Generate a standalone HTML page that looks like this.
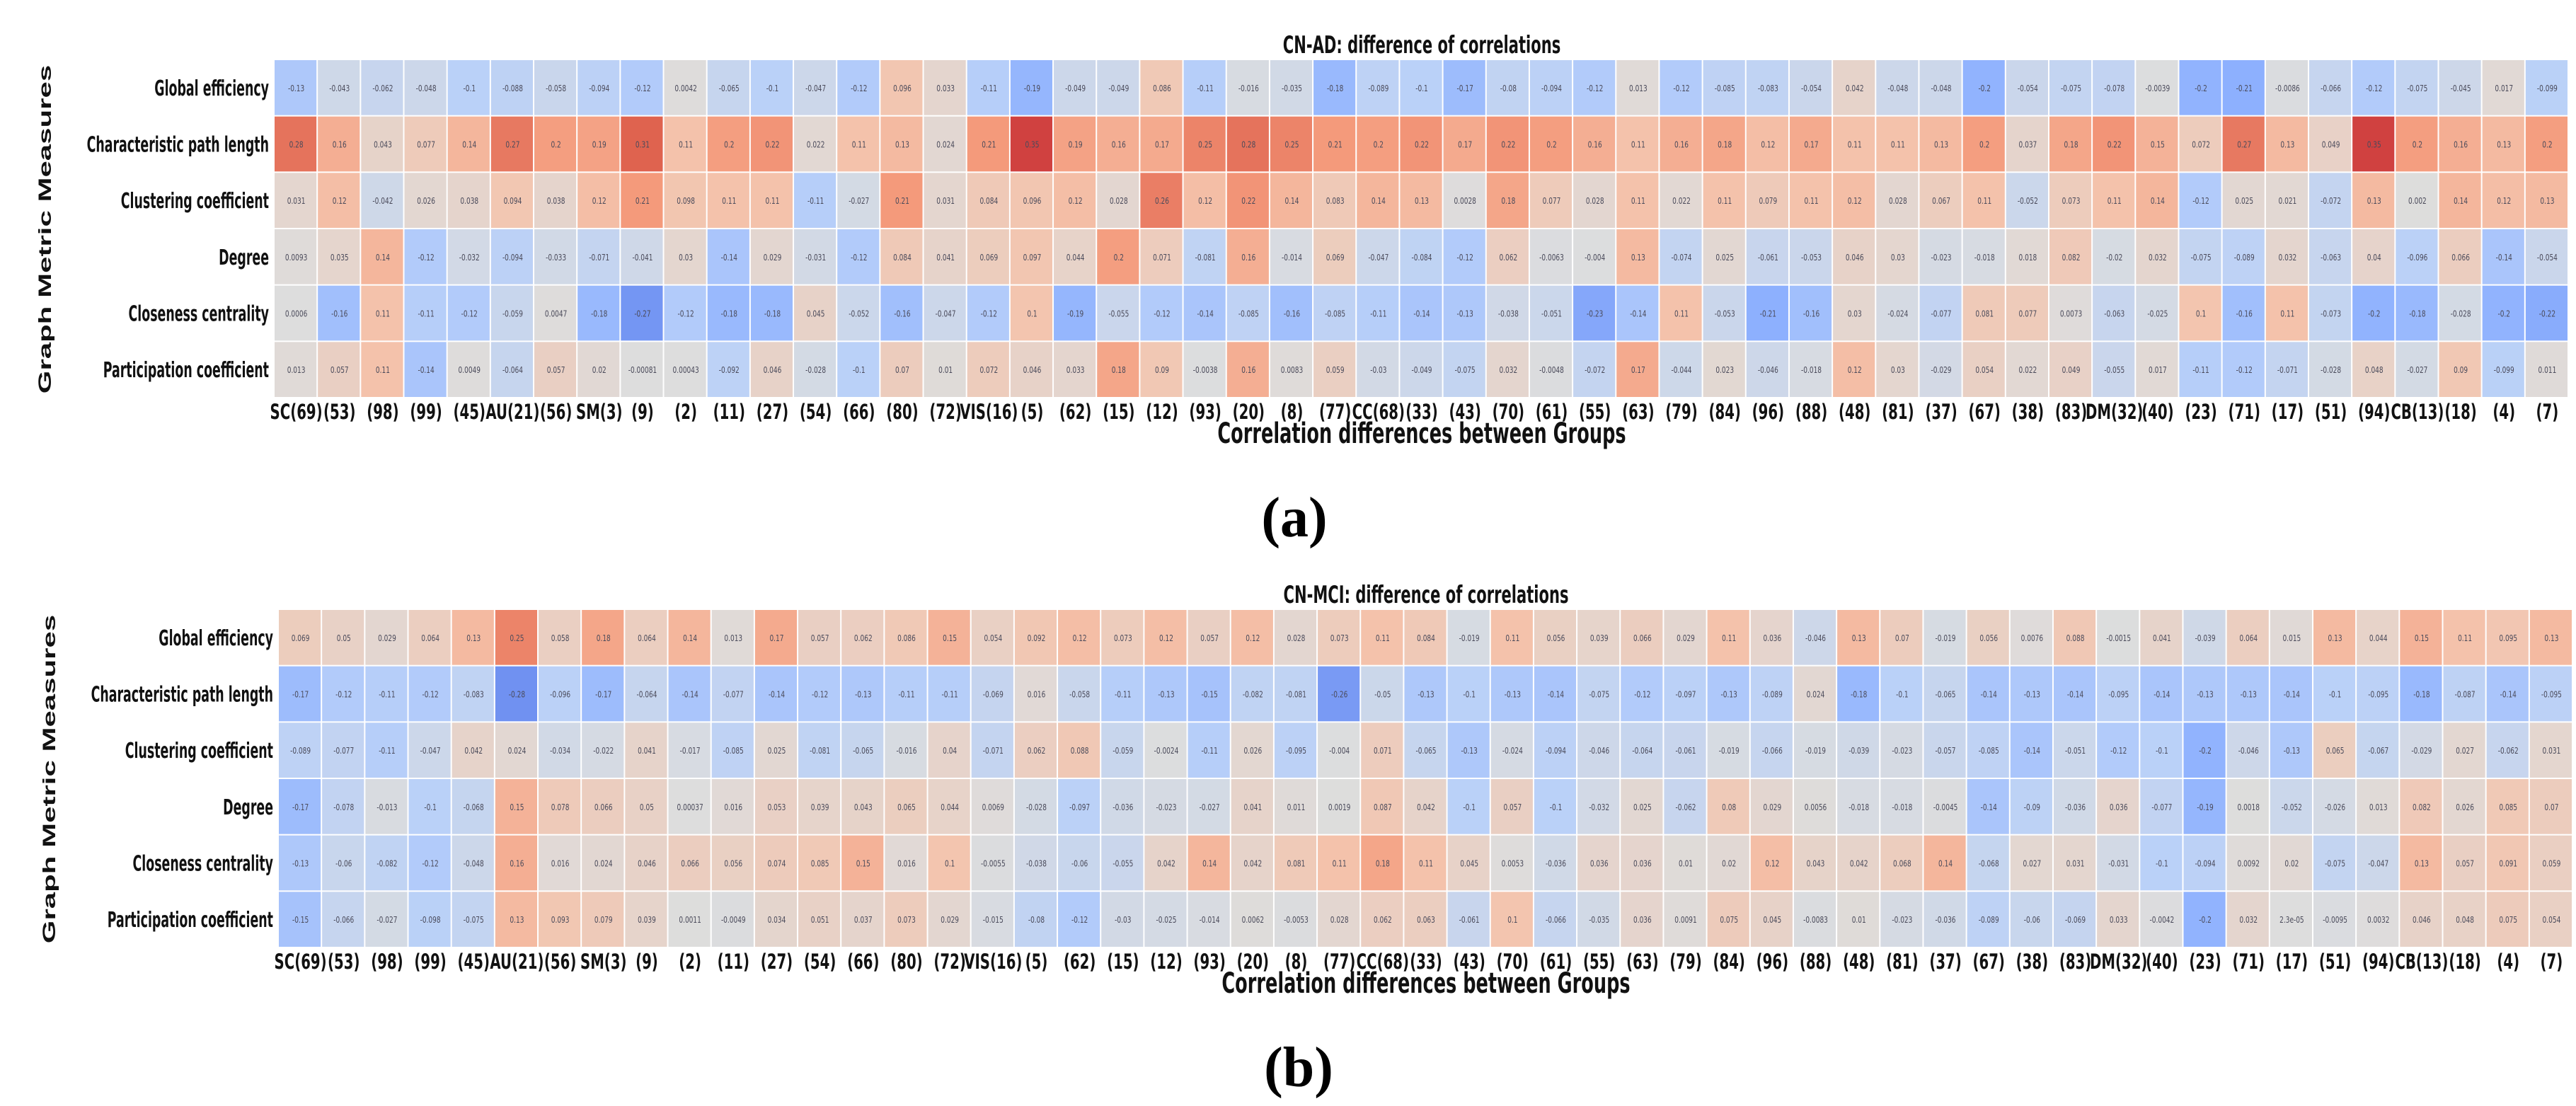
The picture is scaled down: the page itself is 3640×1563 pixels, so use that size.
<!DOCTYPE html>
<html><head><meta charset="utf-8"><style>
html,body{margin:0;padding:0;background:#fff;}
svg{display:block;}
</style></head><body>
<svg id="fig" width="3640" height="1563" viewBox="0 0 3640 1563" xmlns="http://www.w3.org/2000/svg">
<rect width="3640" height="1563" fill="#fff"/>
</svg>
<script>
const categories = ["SC(69)","(53)","(98)","(99)","(45)","AU(21)","(56)","SM(3)","(9)","(2)","(11)","(27)","(54)","(66)","(80)","(72)","VIS(16)","(5)","(62)","(15)","(12)","(93)","(20)","(8)","(77)","CC(68)","(33)","(43)","(70)","(61)","(55)","(63)","(79)","(84)","(96)","(88)","(48)","(81)","(37)","(67)","(38)","(83)","DM(32)","(40)","(23)","(71)","(17)","(51)","(94)","CB(13)","(18)","(4)","(7)"];
const metrics = ["Global efficiency","Characteristic path length","Clustering coefficient","Degree","Closeness centrality","Participation coefficient"];

const adGlobal = [-0.13,-0.043,-0.062,-0.048,-0.1,-0.088,-0.058,-0.094,-0.12,0.0042,-0.065,-0.1,-0.047,-0.12,0.096,0.033,-0.11,-0.19,-0.049,-0.049,0.086,-0.11,-0.016,-0.035,-0.18,-0.089,-0.1,-0.17,-0.08,-0.094,-0.12,0.013,-0.12,-0.085,-0.083,-0.054,0.042,-0.048,-0.048,-0.2,-0.054,-0.075,-0.078,-0.0039,-0.2,-0.21,-0.0086,-0.066,-0.12,-0.075,-0.045,0.017,-0.099];
const adPath = [0.28,0.16,0.043,0.077,0.14,0.27,0.2,0.19,0.31,0.11,0.2,0.22,0.022,0.11,0.13,0.024,0.21,0.35,0.19,0.16,0.17,0.25,0.28,0.25,0.21,0.2,0.22,0.17,0.22,0.2,0.16,0.11,0.16,0.18,0.12,0.17,0.11,0.11,0.13,0.2,0.037,0.18,0.22,0.15,0.072,0.27,0.13,0.049,0.35,0.2,0.16,0.13,0.2];
const adCluster = [0.031,0.12,-0.042,0.026,0.038,0.094,0.038,0.12,0.21,0.098,0.11,0.11,-0.11,-0.027,0.21,0.031,0.084,0.096,0.12,0.028,0.26,0.12,0.22,0.14,0.083,0.14,0.13,0.0028,0.18,0.077,0.028,0.11,0.022,0.11,0.079,0.11,0.12,0.028,0.067,0.11,-0.052,0.073,0.11,0.14,-0.12,0.025,0.021,-0.072,0.13,0.002,0.14,0.12,0.13];
const adDegree = [0.0093,0.035,0.14,-0.12,-0.032,-0.094,-0.033,-0.071,-0.041,0.03,-0.14,0.029,-0.031,-0.12,0.084,0.041,0.069,0.097,0.044,0.2,0.071,-0.081,0.16,-0.014,0.069,-0.047,-0.084,-0.12,0.062,-0.0063,-0.004,0.13,-0.074,0.025,-0.061,-0.053,0.046,0.03,-0.023,-0.018,0.018,0.082,-0.02,0.032,-0.075,-0.089,0.032,-0.063,0.04,-0.096,0.066,-0.14,-0.054];
const adClose = [0.0006,-0.16,0.11,-0.11,-0.12,-0.059,0.0047,-0.18,-0.27,-0.12,-0.18,-0.18,0.045,-0.052,-0.16,-0.047,-0.12,0.1,-0.19,-0.055,-0.12,-0.14,-0.085,-0.16,-0.085,-0.11,-0.14,-0.13,-0.038,-0.051,-0.23,-0.14,0.11,-0.053,-0.21,-0.16,0.03,-0.024,-0.077,0.081,0.077,0.0073,-0.063,-0.025,0.1,-0.16,0.11,-0.073,-0.2,-0.18,-0.028,-0.2,-0.22];
const adPart = [0.013,0.057,0.11,-0.14,0.0049,-0.064,0.057,0.02,-0.00081,0.00043,-0.092,0.046,-0.028,-0.1,0.07,0.01,0.072,0.046,0.033,0.18,0.09,-0.0038,0.16,0.0083,0.059,-0.03,-0.049,-0.075,0.032,-0.0048,-0.072,0.17,-0.044,0.023,-0.046,-0.018,0.12,0.03,-0.029,0.054,0.022,0.049,-0.055,0.017,-0.11,-0.12,-0.071,-0.028,0.048,-0.027,0.09,-0.099,0.011];

const mciGlobal = [0.069,0.05,0.029,0.064,0.13,0.25,0.058,0.18,0.064,0.14,0.013,0.17,0.057,0.062,0.086,0.15,0.054,0.092,0.12,0.073,0.12,0.057,0.12,0.028,0.073,0.11,0.084,-0.019,0.11,0.056,0.039,0.066,0.029,0.11,0.036,-0.046,0.13,0.07,-0.019,0.056,0.0076,0.088,-0.0015,0.041,-0.039,0.064,0.015,0.13,0.044,0.15,0.11,0.095,0.13];
const mciPath = [-0.17,-0.12,-0.11,-0.12,-0.083,-0.28,-0.096,-0.17,-0.064,-0.14,-0.077,-0.14,-0.12,-0.13,-0.11,-0.11,-0.069,0.016,-0.058,-0.11,-0.13,-0.15,-0.082,-0.081,-0.26,-0.05,-0.13,-0.1,-0.13,-0.14,-0.075,-0.12,-0.097,-0.13,-0.089,0.024,-0.18,-0.1,-0.065,-0.14,-0.13,-0.14,-0.095,-0.14,-0.13,-0.13,-0.14,-0.1,-0.095,-0.18,-0.087,-0.14,-0.095];
const mciCluster = [-0.089,-0.077,-0.11,-0.047,0.042,0.024,-0.034,-0.022,0.041,-0.017,-0.085,0.025,-0.081,-0.065,-0.016,0.04,-0.071,0.062,0.088,-0.059,-0.0024,-0.11,0.026,-0.095,-0.004,0.071,-0.065,-0.13,-0.024,-0.094,-0.046,-0.064,-0.061,-0.019,-0.066,-0.019,-0.039,-0.023,-0.057,-0.085,-0.14,-0.051,-0.12,-0.1,-0.2,-0.046,-0.13,0.065,-0.067,-0.029,0.027,-0.062,0.031];
const mciDegree = [-0.17,-0.078,-0.013,-0.1,-0.068,0.15,0.078,0.066,0.05,0.00037,0.016,0.053,0.039,0.043,0.065,0.044,0.0069,-0.028,-0.097,-0.036,-0.023,-0.027,0.041,0.011,0.0019,0.087,0.042,-0.1,0.057,-0.1,-0.032,0.025,-0.062,0.08,0.029,0.0056,-0.018,-0.018,-0.0045,-0.14,-0.09,-0.036,0.036,-0.077,-0.19,0.0018,-0.052,-0.026,0.013,0.082,0.026,0.085,0.07];
const mciClose = [-0.13,-0.06,-0.082,-0.12,-0.048,0.16,0.016,0.024,0.046,0.066,0.056,0.074,0.085,0.15,0.016,0.1,-0.0055,-0.038,-0.06,-0.055,0.042,0.14,0.042,0.081,0.11,0.18,0.11,0.045,0.0053,-0.036,0.036,0.036,0.01,0.02,0.12,0.043,0.042,0.068,0.14,-0.068,0.027,0.031,-0.031,-0.1,-0.094,0.0092,0.02,-0.075,-0.047,0.13,0.057,0.091,0.059];
const mciPart = [-0.15,-0.066,-0.027,-0.098,-0.075,0.13,0.093,0.079,0.039,0.0011,-0.0049,0.034,0.051,0.037,0.073,0.029,-0.015,-0.08,-0.12,-0.03,-0.025,-0.014,0.0062,-0.0053,0.028,0.062,0.063,-0.061,0.1,-0.066,-0.035,0.036,0.0091,0.075,0.045,-0.0083,0.01,-0.023,-0.036,-0.089,-0.06,-0.069,0.033,-0.0042,-0.2,0.032,0.000023,-0.0095,0.0032,0.046,0.048,0.075,0.054];

const NS = "http://www.w3.org/2000/svg";
const svg = document.getElementById("fig");
const SX = 0.58;

const stops = [[0,[59,76,192]],[0.125,[98,130,234]],[0.25,[141,176,254]],[0.375,[184,208,249]],[0.5,[221,221,221]],[0.625,[244,196,173]],[0.75,[244,154,123]],[0.875,[222,96,77]],[1,[180,4,38]]];
function cmap(t){
  t = Math.max(0, Math.min(1, t));
  for (let i = 1; i < stops.length; i++) {
    if (t <= stops[i][0]) {
      const a = stops[i-1], b = stops[i], f = (t - a[0]) / (b[0] - a[0]);
      const c = a[1].map((v, k) => Math.round(v + (b[1][k] - v) * f));
      return "rgb(" + c.join(",") + ")";
    }
  }
  return "rgb(180,4,38)";
}
function fmt(v){
  if (v === 0) return "0";
  const a = Math.abs(v);
  if (a < 0.0001) return v.toExponential(1).replace("e-", "e-0");
  return String(parseFloat(v.toPrecision(2)));
}
function txt(parent, x, y, s, size, opts){
  opts = opts || {};
  const t = document.createElementNS(NS, "text");
  t.setAttribute("transform", "translate(" + x + "," + y + ") scale(" + (opts.sx || SX) + ",1)" + (opts.rot ? " rotate(" + opts.rot + ")" : ""));
  t.setAttribute("font-family", opts.family || "DejaVu Sans, Liberation Sans, sans-serif");
  t.setAttribute("font-size", size);
  t.setAttribute("font-weight", opts.weight || "bold");
  t.setAttribute("fill", opts.fill || "#111");
  t.setAttribute("text-anchor", opts.anchor || "middle");
  t.textContent = s;
  parent.appendChild(t);
  return t;
}

function panel(cfg){
  const g = document.createElementNS(NS, "g");
  
  
  svg.appendChild(g);
  const nC = categories.length, nR = metrics.length;
  const cw = (cfg.x1 - cfg.x0) / nC, rh = (cfg.y1 - cfg.y0) / nR;
  const xPos = i => cfg.x0 + i * cw;
  const yPos = j => cfg.y0 + j * rh;
  const color = v => cmap(0.5 + v / (2 * cfg.vmax));

  cfg.rows.forEach((row, j) => {
    row.forEach((v, i) => {
      const r = document.createElementNS(NS, "rect");
      r.setAttribute("x", xPos(i));
      r.setAttribute("y", yPos(j));
      r.setAttribute("width", cw - 2);
      r.setAttribute("height", rh - 2);
      r.setAttribute("fill", color(v));
      
      
      g.appendChild(r);
      const t = txt(g, xPos(i) + cw / 2, yPos(j) + rh / 2 + 4, fmt(v), 12, {weight: "normal", fill: "#4a4a5a", sx: 0.75});
      
      
    });
  });
  metrics.forEach((m, j) => {
    const t = txt(g, cfg.x0 - 8, yPos(j) + rh / 2 + 10, m, 30, {anchor: "end"});
    
    
  });
  categories.forEach((c, i) => {
    const t = txt(g, xPos(i) + cw / 2, cfg.y1 + 29, c, 29, {sx: 0.68});
    
    
  });
  const cx = (cfg.x0 + cfg.x1) / 2;
  const title = txt(g, cx, cfg.y0 - 10, cfg.title, 34, {sx: 0.62});
  
  
  const xt = txt(g, cx, cfg.y1 + 63, "Correlation differences between Groups", 40, {sx: 0.64});
  
  
  const yt = txt(g, cfg.yTitleX, (cfg.y0 + cfg.y1) / 2, "Graph Metric Measures", 42, {family: "Liberation Sans, sans-serif", rot: -90, sx: 0.6});
  
  
  const lab = txt(svg, cx - 180, cfg.y1 + 195, cfg.label, 80, {family: "Liberation Serif, serif", sx: 1, fill: "#000"});
  
  
}

panel({name: "heatmap-cn-ad", title: "CN-AD: difference of correlations", label: "(a)",
  x0: 388, x1: 3630, y0: 85, y1: 563, vmax: 0.42, yTitleX: 72,
  rows: [adGlobal, adPath, adCluster, adDegree, adClose, adPart]});
panel({name: "heatmap-cn-mci", title: "CN-MCI: difference of correlations", label: "(b)",
  x0: 394, x1: 3636, y0: 862, y1: 1340, vmax: 0.42, yTitleX: 78,
  rows: [mciGlobal, mciPath, mciCluster, mciDegree, mciClose, mciPart]});
</script>
</body></html>
